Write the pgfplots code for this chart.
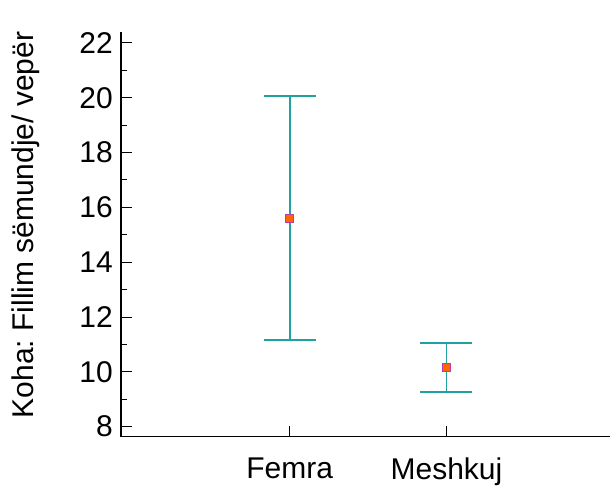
\documentclass[border=0pt]{standalone}
\usepackage{pgfplots}
\pgfplotsset{compat=1.18}
\usepackage{fontspec}
\setmainfont{Liberation Sans}
\definecolor{barteal}{RGB}{32,162,162}
\definecolor{mkfill}{RGB}{255,102,0}
\definecolor{mkdraw}{RGB}{190,60,170}
\frenchspacing
\begin{document}
\fontsize{30bp}{35bp}\selectfont
\begin{tikzpicture}
\begin{axis}[
  scale only axis,
  width=490bp, height=405bp,
  xmin=-0.076, xmax=3.045,
  ymin=7.636, ymax=22.40,
  axis x line*=bottom, axis y line*=left,
  axis line style={line width=1.3bp, black},
  xtick={1,2}, xticklabels={Femra,Meshkuj},
  ytick={8,10,...,22},
  minor ytick={9,11,...,21},
  tick align=inside,
  tick style={line width=0.9bp, black},
  major tick length=11bp, minor tick length=6bp,
  /pgf/number format/assume math mode=true,
  ticklabel style={font=\fontsize{30bp}{35bp}\selectfont},
  xticklabel style={yshift=-11bp},
  yticklabel style={inner xsep=0pt, xshift=-8bp},
  ylabel={Koha: Fillim sëmundje/ vepër},
  ylabel style={font=\fontsize{30bp}{35bp}\selectfont, at={(axis description cs:-0.178,0.523)}, anchor=base, rotate=0},
  clip=false,
]
\addplot[
  only marks, mark=square*, mark size=3.8bp,
  mark options={fill=mkfill, draw=mkdraw, line width=0.9bp},
  error bars/.cd, y dir=both, y explicit,
  error bar style={line width=1.8bp, color=barteal},
  error mark options={rotate=90, mark size=26bp, line width=1.8bp, color=barteal},
] coordinates {
  (1,15.6) +- (0,4.45)
  (2,10.15) +- (0,0.89)
};
\end{axis}
\path[use as bounding box] ([shift={(-121bp,-49bp)}]current axis.south west) rectangle ([shift={(0bp,32bp)}]current axis.north east);
\end{tikzpicture}
\end{document}
